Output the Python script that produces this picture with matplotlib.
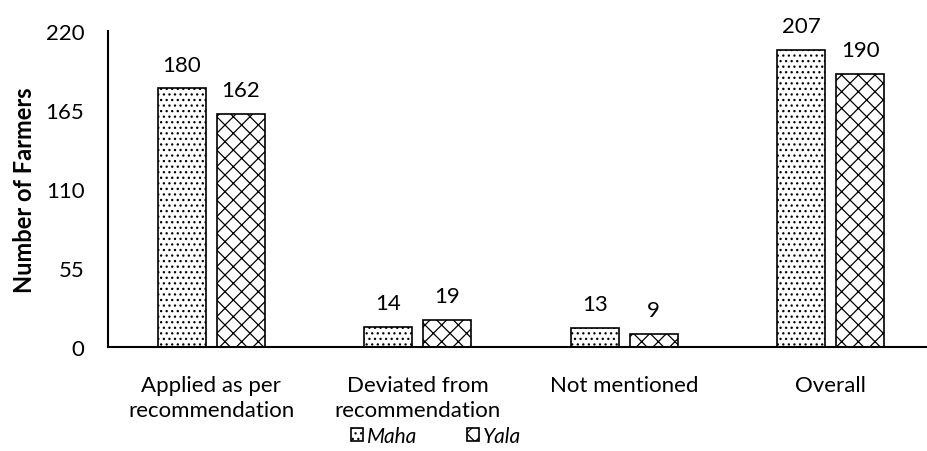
import matplotlib
matplotlib.use("Agg")
import matplotlib.pyplot as plt
import numpy as np

plt.rcParams['font.family'] = ['Lato', 'DejaVu Sans']
plt.rcParams['hatch.linewidth'] = 0.9

categories = ["Applied as per\nrecommendation", "Deviated from\nrecommendation",
              "Not mentioned", "Overall"]
maha = [180, 14, 13, 207]
yala = [162, 19, 9, 190]
yticks = [0, 55, 110, 165, 220]

fig = plt.figure(figsize=(9.28, 4.52), dpi=100)
ax = fig.add_axes([108/928, 104/452, 826/928, 316/452])

x = np.arange(len(categories))
w = 0.232
off = 0.143
b1 = ax.bar(x - off, maha, w, color='white', edgecolor='black', lw=1.2,
            hatch='...', label='Maha')
b2 = ax.bar(x + off, yala, w, color='white', edgecolor='black', lw=1.2,
            hatch='xx', label='Yala')

for bars, vals in [(b1, maha), (b2, yala)]:
    for r, v in zip(bars, vals):
        ax.annotate(f'{v}', xy=(r.get_x() + r.get_width()/2, v),
                    xytext=(0, 10), textcoords='offset points',
                    ha='center', va='bottom', fontsize=16)

ax.set_xlim(-0.5, 3.5)
ax.set_ylim(0, 220)
ax.set_yticks(yticks)
ax.set_xticks(x)
ax.set_xticklabels(categories, fontsize=16, linespacing=1.35)
ax.tick_params(axis='y', labelsize=16, length=0, pad=17)
ax.tick_params(axis='x', length=0, pad=20)
for s in ['top', 'right']:
    ax.spines[s].set_visible(False)
ax.spines['left'].set_linewidth(1.5)
ax.spines['bottom'].set_linewidth(1.5)
ax.set_ylabel('Number of Farmers', fontsize=17, fontweight='bold', labelpad=7)

leg = fig.legend(handles=[b1, b2], loc='center', bbox_to_anchor=(436/928, 1 - 437/452),
                 ncol=2, frameon=False, handlelength=0.55, handleheight=0.55,
                 handletextpad=0.2, columnspacing=2.4,
                 prop={'size': 15, 'style': 'italic'})

fig.savefig('out.png', dpi=100)
